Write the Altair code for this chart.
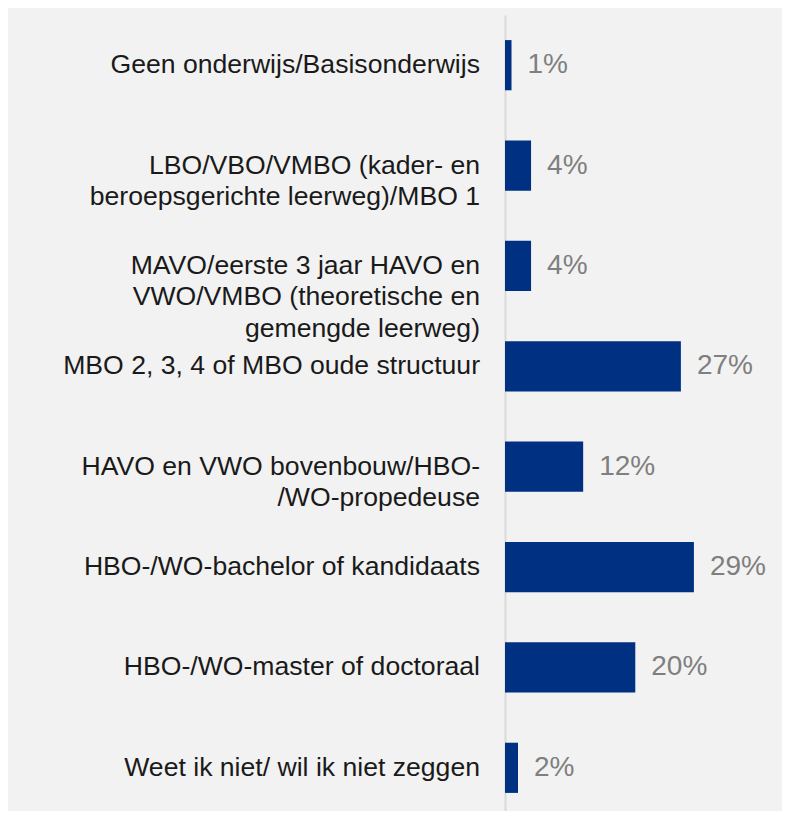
import altair as alt
import pandas as pd

categories = [
    "Geen onderwijs/Basisonderwijs",
    "LBO/VBO/VMBO (kader- en\nberoepsgerichte leerweg)/MBO 1",
    "MAVO/eerste 3 jaar HAVO en\nVWO/VMBO (theoretische en\ngemengde leerweg)",
    "MBO 2, 3, 4 of MBO oude structuur",
    "HAVO en VWO bovenbouw/HBO-\n/WO-propedeuse",
    "HBO-/WO-bachelor of kandidaats",
    "HBO-/WO-master of doctoraal",
    "Weet ik niet/ wil ik niet zeggen",
]
values = [1, 4, 4, 27, 12, 29, 20, 2]
value_labels = ["1%", "4%", "4%", "27%", "12%", "29%", "20%", "2%"]

df = pd.DataFrame({"cat": categories, "val": values, "lab": value_labels})

FONT = "Liberation Sans, Arial, sans-serif"

y = alt.Y(
    "cat:N",
    sort=categories,
    scale=alt.Scale(paddingInner=0.5, paddingOuter=0.25, range=[0, 803]),
    axis=alt.Axis(labels=False, ticks=False, title=None, domain=True,
                  domainColor="#d9d9d9", domainWidth=2, grid=False),
)
x = alt.X("val:Q", scale=alt.Scale(domain=[0, 35], nice=False), axis=None)

bars = alt.Chart(df).mark_bar(color="#003082").encode(x=x, y=y)

vals = alt.Chart(df).mark_text(
    align="left", baseline="middle", dx=16, fontSize=28, font=FONT, color="#7f7f7f"
).encode(x=x, y=y, text="lab:N")

cats = alt.Chart(df).mark_text(
    align="right", baseline="middle", fontSize=26.6, font=FONT, color="#1a1a1a",
    lineBreak="\n", lineHeight=31.5,
).encode(x=alt.value(-25), y=y, text="cat:N")

chart = alt.layer(bars, vals, cats).properties(
    width=228,
    height=796,
    background="#f2f2f2",
    padding={"left": 497, "top": 7, "right": 49, "bottom": 0},
    autosize=alt.AutoSizeParams(type="none"),
).configure_view(stroke=None)

chart.save("out.html", embed_options={"renderer": "svg", "actions": False})
